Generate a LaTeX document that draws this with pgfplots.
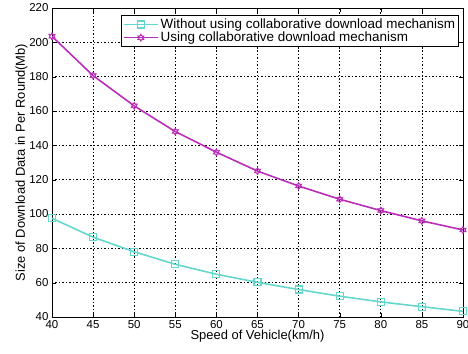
\documentclass[border=0pt]{standalone}
\usepackage{pgfplots}
\pgfplotsset{compat=1.18}
\usepackage{fontspec}
\setmainfont{Liberation Sans}
\definecolor{cyanl}{RGB}{100,215,205}
\definecolor{purp}{RGB}{185,45,185}
\pgfdeclareplotmark{hexstar}{%
  \pgfpathmoveto{\pgfqpoint{0pt}{\pgfplotmarksize}}%
  \pgfpathlineto{\pgfqpoint{0.866\pgfplotmarksize}{-0.5\pgfplotmarksize}}%
  \pgfpathlineto{\pgfqpoint{-0.866\pgfplotmarksize}{-0.5\pgfplotmarksize}}%
  \pgfpathclose
  \pgfpathmoveto{\pgfqpoint{0pt}{-\pgfplotmarksize}}%
  \pgfpathlineto{\pgfqpoint{0.866\pgfplotmarksize}{0.5\pgfplotmarksize}}%
  \pgfpathlineto{\pgfqpoint{-0.866\pgfplotmarksize}{0.5\pgfplotmarksize}}%
  \pgfpathclose
  \pgfusepathqfillstroke
}
\begin{document}
\begin{tikzpicture}[x=1bp,y=1bp]
\begin{axis}[
  scale only axis,
  width=411bp, height=309bp,
  xmin=40, xmax=90, ymin=40, ymax=220,
  xtick={40,45,...,90}, ytick={40,60,...,220},
  tick align=inside, ticks=both,
  xtick pos=both, ytick pos=both,
  grid=major,
  major grid style={black, dash pattern=on 1.5pt off 2pt, line width=0.7pt},
  axis line style={black, line width=0.7pt},
  tick style={black},
  /pgf/number format/assume math mode=true,
  tick label style={font=\fontsize{11.5}{13}\selectfont},
  xlabel={Speed of Vehicle(km/h)},
  ylabel={Size of Download Data in Per Round(Mb)},
  label style={font=\fontsize{13}{15}\selectfont},
  xlabel style={yshift=5bp},
  ylabel style={yshift=-5bp},
  legend style={at={(1,1)}, anchor=north east, xshift=-4bp, yshift=-7bp,
    font=\fontsize{13.5}{15}\selectfont, draw=black, line width=0.7pt,
    inner sep=1.5bp, row sep=-2bp, cells={anchor=west}},
  legend image code/.code={\draw[mark repeat=2,mark phase=2] plot coordinates {(0bp,0bp)(17bp,0bp)(34bp,0bp)};},
]
\addplot[cyanl, line width=1.6pt, mark=square, mark size=3.5bp, mark options={line width=1.2pt}] coordinates {
(40,97.5)(45,86.5)(50,78)(55,70.7)(60,64.9)(65,60.2)(70,56)(75,52.1)(80,48.8)(85,46)(90,43.3)};
\addlegendentry{Without using collaborative download mechanism}
\addplot[purp, line width=1.6pt, mark=hexstar, mark size=3.8bp, mark options={fill=purp, line width=0.5pt}] coordinates {
(40,203.5)(45,180.6)(50,163)(55,148)(60,136)(65,125)(70,116.3)(75,108.6)(80,102)(85,96)(90,90.7)};
\addlegendentry{Using collaborative download mechanism}
\end{axis}
\pgfresetboundingbox
\path (current axis.south west) ++(-52bp,-37bp) coordinate (bl);
\path (current axis.north east) ++(5bp,8bp) coordinate (tr);
\useasboundingbox (bl) rectangle (tr);
\end{tikzpicture}
\end{document}
